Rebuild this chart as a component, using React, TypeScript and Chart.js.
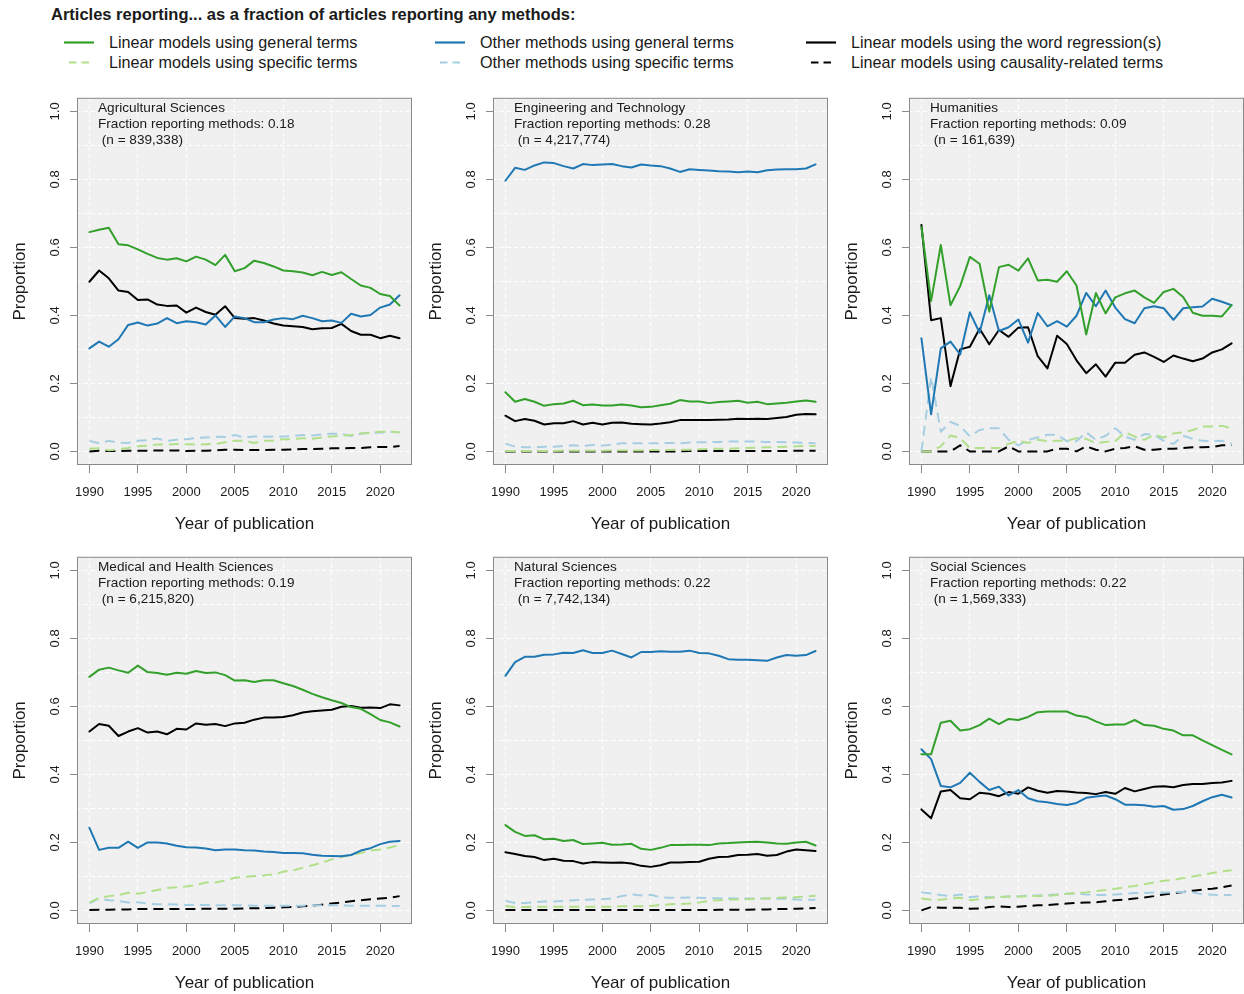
import React, { useEffect, useRef } from 'react';
import { Chart, registerables } from 'chart.js';

Chart.register(...registerables);

const FONT = '"Liberation Sans", Arial, Helvetica, sans-serif';

const years = [1990, 1991, 1992, 1993, 1994, 1995, 1996, 1997, 1998, 1999, 2000, 2001, 2002, 2003, 2004, 2005, 2006, 2007, 2008, 2009, 2010, 2011, 2012, 2013, 2014, 2015, 2016, 2017, 2018, 2019, 2020, 2021, 2022];
const xTickVals = [1990, 1995, 2000, 2005, 2010, 2015, 2020];
const yTickVals = [0, 0.1, 0.2, 0.3, 0.4, 0.5, 0.6, 0.7, 0.8, 0.9, 1.0];

const seriesNames = [
  'Linear models using general terms',
  'Linear models using specific terms',
  'Other methods using general terms',
  'Other methods using specific terms',
  'Linear models using the word regression(s)',
  'Linear models using causality-related terms',
];

// Agricultural Sciences
const agriLinGen = [0.645, 0.652, 0.658, 0.609, 0.606, 0.594, 0.581, 0.569, 0.564, 0.568, 0.559, 0.573, 0.564, 0.548, 0.578, 0.530, 0.539, 0.561, 0.554, 0.544, 0.532, 0.530, 0.526, 0.518, 0.528, 0.519, 0.527, 0.507, 0.488, 0.481, 0.463, 0.457, 0.429];
const agriLinSpec = [0.008, 0.009, 0.003, 0.006, 0.010, 0.015, 0.017, 0.020, 0.020, 0.022, 0.021, 0.020, 0.021, 0.022, 0.027, 0.031, 0.031, 0.025, 0.031, 0.032, 0.036, 0.036, 0.039, 0.037, 0.041, 0.044, 0.046, 0.048, 0.053, 0.054, 0.058, 0.058, 0.056];
const agriOthGen = [0.303, 0.323, 0.308, 0.330, 0.372, 0.379, 0.370, 0.376, 0.392, 0.377, 0.383, 0.380, 0.373, 0.400, 0.366, 0.397, 0.392, 0.380, 0.380, 0.388, 0.392, 0.389, 0.399, 0.392, 0.383, 0.385, 0.378, 0.405, 0.397, 0.401, 0.423, 0.432, 0.459];
const agriOthSpec = [0.031, 0.024, 0.031, 0.026, 0.025, 0.031, 0.033, 0.038, 0.031, 0.034, 0.036, 0.039, 0.041, 0.043, 0.042, 0.048, 0.041, 0.044, 0.043, 0.044, 0.044, 0.045, 0.048, 0.047, 0.050, 0.052, 0.052, 0.045, 0.052, 0.056, 0.055, 0.058, 0.056];
const agriReg = [0.499, 0.532, 0.509, 0.473, 0.469, 0.445, 0.447, 0.432, 0.428, 0.429, 0.408, 0.423, 0.410, 0.402, 0.427, 0.392, 0.390, 0.392, 0.385, 0.376, 0.370, 0.368, 0.366, 0.359, 0.362, 0.363, 0.375, 0.354, 0.343, 0.343, 0.333, 0.340, 0.333];
const agriCaus = [0.000, 0.002, 0.001, 0.001, 0.002, 0.002, 0.002, 0.003, 0.003, 0.003, 0.001, 0.002, 0.002, 0.003, 0.005, 0.005, 0.004, 0.004, 0.004, 0.005, 0.005, 0.006, 0.007, 0.007, 0.008, 0.009, 0.009, 0.010, 0.010, 0.012, 0.013, 0.013, 0.016];

// Engineering and Technology
const engLinGen = [0.174, 0.146, 0.154, 0.146, 0.134, 0.139, 0.141, 0.149, 0.136, 0.138, 0.135, 0.135, 0.138, 0.135, 0.130, 0.131, 0.136, 0.140, 0.151, 0.147, 0.147, 0.142, 0.145, 0.147, 0.149, 0.143, 0.146, 0.139, 0.141, 0.143, 0.147, 0.150, 0.146];
const engLinSpec = [0.001, 0.001, 0.001, 0.001, 0.001, 0.001, 0.002, 0.002, 0.002, 0.002, 0.002, 0.003, 0.003, 0.003, 0.003, 0.004, 0.004, 0.004, 0.005, 0.005, 0.006, 0.007, 0.008, 0.008, 0.009, 0.010, 0.011, 0.012, 0.013, 0.014, 0.015, 0.016, 0.016];
const engOthGen = [0.796, 0.834, 0.828, 0.841, 0.850, 0.848, 0.839, 0.832, 0.845, 0.842, 0.844, 0.845, 0.839, 0.835, 0.844, 0.841, 0.839, 0.832, 0.822, 0.830, 0.828, 0.826, 0.824, 0.823, 0.821, 0.823, 0.821, 0.827, 0.829, 0.830, 0.830, 0.832, 0.844];
const engOthSpec = [0.023, 0.014, 0.012, 0.012, 0.014, 0.014, 0.016, 0.018, 0.016, 0.019, 0.017, 0.020, 0.024, 0.024, 0.024, 0.024, 0.024, 0.025, 0.024, 0.026, 0.027, 0.027, 0.028, 0.029, 0.029, 0.029, 0.029, 0.028, 0.028, 0.027, 0.026, 0.025, 0.024];
const engReg = [0.105, 0.089, 0.095, 0.090, 0.079, 0.083, 0.083, 0.089, 0.079, 0.084, 0.079, 0.084, 0.085, 0.081, 0.080, 0.079, 0.082, 0.086, 0.092, 0.092, 0.092, 0.092, 0.093, 0.094, 0.096, 0.095, 0.096, 0.095, 0.098, 0.101, 0.108, 0.110, 0.109];
const engCaus = [0.000, 0.000, 0.000, 0.000, 0.000, 0.000, 0.000, 0.000, 0.000, 0.000, 0.000, 0.000, 0.000, 0.000, 0.000, 0.000, 0.000, 0.000, 0.000, 0.001, 0.001, 0.001, 0.001, 0.001, 0.001, 0.001, 0.001, 0.001, 0.001, 0.001, 0.002, 0.002, 0.002];

// Humanities
const humLinGen = [0.660, 0.442, 0.607, 0.430, 0.486, 0.572, 0.552, 0.411, 0.542, 0.549, 0.532, 0.568, 0.503, 0.505, 0.499, 0.530, 0.488, 0.344, 0.466, 0.406, 0.453, 0.465, 0.473, 0.453, 0.437, 0.469, 0.478, 0.454, 0.408, 0.399, 0.399, 0.397, 0.430];
const humLinSpec = [0.000, 0.000, 0.015, 0.047, 0.039, 0.010, 0.010, 0.010, 0.010, 0.022, 0.031, 0.025, 0.034, 0.030, 0.031, 0.031, 0.039, 0.037, 0.024, 0.028, 0.030, 0.056, 0.044, 0.034, 0.049, 0.041, 0.053, 0.056, 0.063, 0.073, 0.073, 0.075, 0.068];
const humOthGen = [0.333, 0.109, 0.303, 0.323, 0.285, 0.409, 0.349, 0.459, 0.354, 0.365, 0.388, 0.320, 0.407, 0.368, 0.383, 0.367, 0.399, 0.466, 0.427, 0.473, 0.423, 0.389, 0.377, 0.421, 0.427, 0.421, 0.387, 0.421, 0.424, 0.426, 0.449, 0.440, 0.430];
const humOthSpec = [0.000, 0.220, 0.058, 0.087, 0.075, 0.044, 0.063, 0.068, 0.068, 0.034, 0.018, 0.034, 0.041, 0.049, 0.049, 0.030, 0.030, 0.056, 0.034, 0.046, 0.068, 0.044, 0.034, 0.051, 0.049, 0.031, 0.022, 0.046, 0.037, 0.031, 0.030, 0.031, 0.023];
const humReg = [0.666, 0.386, 0.392, 0.192, 0.300, 0.308, 0.361, 0.315, 0.357, 0.337, 0.364, 0.365, 0.280, 0.244, 0.340, 0.316, 0.268, 0.230, 0.256, 0.220, 0.261, 0.261, 0.284, 0.291, 0.278, 0.263, 0.282, 0.273, 0.265, 0.273, 0.291, 0.300, 0.318];
const humCaus = [0.000, 0.000, 0.000, 0.000, 0.018, 0.000, 0.000, 0.000, 0.000, 0.015, 0.000, 0.000, 0.000, 0.000, 0.008, 0.008, 0.000, 0.015, 0.005, 0.000, 0.008, 0.010, 0.015, 0.005, 0.005, 0.008, 0.008, 0.010, 0.012, 0.012, 0.013, 0.018, 0.018];

// Medical and Health Sciences
const medLinGen = [0.687, 0.708, 0.714, 0.706, 0.699, 0.720, 0.701, 0.698, 0.693, 0.699, 0.696, 0.704, 0.698, 0.700, 0.692, 0.676, 0.677, 0.672, 0.677, 0.677, 0.668, 0.660, 0.649, 0.637, 0.627, 0.618, 0.610, 0.598, 0.593, 0.577, 0.560, 0.553, 0.541];
const medLinSpec = [0.023, 0.037, 0.042, 0.045, 0.052, 0.049, 0.054, 0.060, 0.066, 0.068, 0.070, 0.075, 0.082, 0.082, 0.088, 0.096, 0.099, 0.101, 0.103, 0.106, 0.114, 0.118, 0.125, 0.133, 0.140, 0.150, 0.157, 0.164, 0.169, 0.176, 0.179, 0.185, 0.192];
const medOthGen = [0.243, 0.178, 0.184, 0.184, 0.202, 0.184, 0.200, 0.200, 0.197, 0.190, 0.186, 0.185, 0.182, 0.177, 0.179, 0.179, 0.177, 0.176, 0.173, 0.172, 0.169, 0.169, 0.168, 0.164, 0.161, 0.160, 0.159, 0.163, 0.176, 0.183, 0.195, 0.202, 0.204];
const medOthSpec = [0.021, 0.035, 0.030, 0.028, 0.023, 0.024, 0.020, 0.018, 0.018, 0.017, 0.016, 0.016, 0.016, 0.015, 0.015, 0.015, 0.015, 0.014, 0.014, 0.014, 0.014, 0.014, 0.014, 0.015, 0.015, 0.015, 0.015, 0.014, 0.014, 0.014, 0.014, 0.013, 0.013];
const medReg = [0.526, 0.548, 0.543, 0.513, 0.526, 0.536, 0.523, 0.526, 0.518, 0.534, 0.532, 0.550, 0.546, 0.548, 0.542, 0.550, 0.552, 0.561, 0.567, 0.567, 0.569, 0.574, 0.582, 0.586, 0.588, 0.590, 0.599, 0.601, 0.596, 0.597, 0.595, 0.606, 0.603];
const medCaus = [0.001, 0.002, 0.002, 0.003, 0.003, 0.004, 0.004, 0.004, 0.004, 0.004, 0.004, 0.004, 0.005, 0.005, 0.005, 0.005, 0.006, 0.006, 0.007, 0.008, 0.009, 0.010, 0.012, 0.014, 0.017, 0.020, 0.023, 0.027, 0.030, 0.033, 0.035, 0.037, 0.042];

// Natural Sciences
const natLinGen = [0.251, 0.231, 0.219, 0.221, 0.209, 0.211, 0.204, 0.207, 0.195, 0.197, 0.199, 0.193, 0.194, 0.196, 0.181, 0.178, 0.184, 0.192, 0.192, 0.193, 0.193, 0.192, 0.197, 0.198, 0.200, 0.201, 0.202, 0.200, 0.197, 0.196, 0.200, 0.202, 0.191];
const natLinSpec = [0.013, 0.009, 0.010, 0.011, 0.011, 0.011, 0.011, 0.011, 0.011, 0.011, 0.011, 0.011, 0.012, 0.012, 0.012, 0.013, 0.016, 0.018, 0.019, 0.020, 0.023, 0.028, 0.030, 0.032, 0.032, 0.033, 0.035, 0.035, 0.037, 0.038, 0.039, 0.041, 0.043];
const natOthGen = [0.690, 0.730, 0.746, 0.746, 0.752, 0.753, 0.758, 0.757, 0.765, 0.757, 0.757, 0.764, 0.754, 0.744, 0.760, 0.760, 0.762, 0.761, 0.761, 0.764, 0.757, 0.756, 0.749, 0.739, 0.737, 0.737, 0.736, 0.734, 0.744, 0.751, 0.749, 0.751, 0.763];
const natOthSpec = [0.028, 0.022, 0.022, 0.024, 0.026, 0.026, 0.028, 0.030, 0.031, 0.032, 0.033, 0.035, 0.042, 0.047, 0.044, 0.046, 0.039, 0.037, 0.037, 0.038, 0.037, 0.036, 0.036, 0.036, 0.035, 0.035, 0.035, 0.035, 0.034, 0.034, 0.032, 0.031, 0.031];
const natReg = [0.171, 0.166, 0.160, 0.157, 0.148, 0.152, 0.146, 0.145, 0.138, 0.142, 0.141, 0.140, 0.141, 0.138, 0.131, 0.128, 0.133, 0.141, 0.141, 0.142, 0.143, 0.152, 0.157, 0.158, 0.163, 0.164, 0.166, 0.161, 0.163, 0.173, 0.179, 0.177, 0.175];
const natCaus = [0.001, 0.001, 0.001, 0.001, 0.001, 0.001, 0.001, 0.001, 0.001, 0.001, 0.001, 0.001, 0.001, 0.001, 0.001, 0.001, 0.001, 0.001, 0.001, 0.001, 0.001, 0.001, 0.002, 0.002, 0.002, 0.002, 0.003, 0.003, 0.004, 0.004, 0.005, 0.006, 0.007];

// Social Sciences
const socLinGen = [0.459, 0.459, 0.552, 0.558, 0.529, 0.533, 0.545, 0.564, 0.548, 0.563, 0.560, 0.569, 0.583, 0.585, 0.585, 0.585, 0.573, 0.569, 0.556, 0.545, 0.547, 0.547, 0.560, 0.545, 0.543, 0.534, 0.529, 0.515, 0.515, 0.500, 0.486, 0.472, 0.459];
const socLinSpec = [0.035, 0.031, 0.031, 0.035, 0.037, 0.030, 0.033, 0.037, 0.039, 0.041, 0.041, 0.042, 0.042, 0.043, 0.045, 0.049, 0.051, 0.053, 0.057, 0.060, 0.064, 0.068, 0.072, 0.077, 0.082, 0.087, 0.090, 0.095, 0.100, 0.105, 0.110, 0.115, 0.118];
const socOthGen = [0.474, 0.445, 0.366, 0.362, 0.375, 0.405, 0.378, 0.354, 0.364, 0.338, 0.354, 0.330, 0.321, 0.318, 0.313, 0.310, 0.316, 0.331, 0.335, 0.338, 0.327, 0.311, 0.311, 0.309, 0.305, 0.307, 0.296, 0.298, 0.307, 0.321, 0.333, 0.340, 0.332];
const socOthSpec = [0.053, 0.050, 0.045, 0.042, 0.047, 0.039, 0.042, 0.039, 0.039, 0.041, 0.041, 0.044, 0.044, 0.045, 0.047, 0.049, 0.050, 0.047, 0.045, 0.045, 0.047, 0.049, 0.051, 0.051, 0.053, 0.053, 0.053, 0.054, 0.053, 0.047, 0.046, 0.045, 0.045];
const socReg = [0.297, 0.271, 0.350, 0.354, 0.330, 0.327, 0.346, 0.343, 0.336, 0.348, 0.343, 0.362, 0.352, 0.346, 0.351, 0.350, 0.347, 0.345, 0.342, 0.348, 0.343, 0.360, 0.350, 0.357, 0.364, 0.365, 0.362, 0.369, 0.372, 0.372, 0.375, 0.376, 0.381];
const socCaus = [0.000, 0.010, 0.008, 0.008, 0.008, 0.005, 0.006, 0.010, 0.012, 0.010, 0.011, 0.013, 0.015, 0.016, 0.018, 0.020, 0.022, 0.023, 0.024, 0.027, 0.030, 0.032, 0.035, 0.038, 0.042, 0.047, 0.050, 0.054, 0.058, 0.061, 0.064, 0.068, 0.073];

const panelNames = ['Agricultural Sciences', 'Engineering and Technology', 'Humanities', 'Medical and Health Sciences', 'Natural Sciences', 'Social Sciences'];
const panelFractions = ['0.18', '0.28', '0.09', '0.19', '0.22', '0.22'];
const panelCounts = ['839,338', '4,217,774', '161,639', '6,215,820', '7,742,134', '1,569,333'];

// series order per panel: linGen, linSpec, othGen, othSpec, reg, caus
const panelSeries = [
  [agriLinGen, agriLinSpec, agriOthGen, agriOthSpec, agriReg, agriCaus],
  [engLinGen, engLinSpec, engOthGen, engOthSpec, engReg, engCaus],
  [humLinGen, humLinSpec, humOthGen, humOthSpec, humReg, humCaus],
  [medLinGen, medLinSpec, medOthGen, medOthSpec, medReg, medCaus],
  [natLinGen, natLinSpec, natOthGen, natOthSpec, natReg, natCaus],
  [socLinGen, socLinSpec, socOthGen, socOthSpec, socReg, socCaus],
];

const seriesColors = ['#33A02C', '#B2DF8A', '#1F78B4', '#A6CEE3', '#000000', '#000000'];
const seriesDashed = [false, true, false, true, false, true];
// drawing order (first = top)
const drawOrder = [0, 2, 4, 1, 3, 5];

const Y_AXIS_W = 77;
const X_AXIS_H = 75;
const PAD_TOP = 5;
const PAD_RIGHT = 3;
const PLOT_W = 335;
const PLOT_H = 376;
const CW = Y_AXIS_W + PLOT_W + PAD_RIGHT;
const CH = PAD_TOP + PLOT_H + X_AXIS_H;
const colLefts = [0, 416, 832];
const rowTops = [84, 543];

const TEXT = '#1a1a1a';
const AXIS = '#8a8a8a';

const panelBox = {
  id: 'panelBox',
  beforeDraw(chart: any) {
    const { ctx, chartArea } = chart;
    ctx.save();
    ctx.fillStyle = '#F0F0F0';
    ctx.fillRect(chartArea.left, chartArea.top, chartArea.right - chartArea.left, chartArea.bottom - chartArea.top);
    ctx.restore();
  },
  afterDraw(chart: any) {
    const { ctx, chartArea } = chart;
    ctx.save();
    ctx.strokeStyle = AXIS;
    ctx.lineWidth = 1;
    ctx.setLineDash([]);
    ctx.strokeRect(chartArea.left + 0.5, chartArea.top + 0.5, chartArea.right - chartArea.left - 1, chartArea.bottom - chartArea.top - 1);
    ctx.restore();
  },
};

function Panel({ idx }: { idx: number }) {
  const ref = useRef<HTMLCanvasElement>(null);
  const left = colLefts[idx % 3];
  const top = rowTops[Math.floor(idx / 3)];
  useEffect(() => {
    const series = panelSeries[idx];
    const datasets = drawOrder.map((s) => ({
      label: seriesNames[s],
      data: years.map((yr, i) => ({ x: yr, y: series[s][i] })),
      borderColor: seriesColors[s],
      backgroundColor: seriesColors[s],
      borderWidth: 2,
      borderDash: seriesDashed[s] ? [10, 6] : [],
      borderCapStyle: seriesDashed[s] ? 'butt' : 'round',
      borderJoinStyle: 'round',
      pointRadius: 0,
      tension: 0,
      fill: false,
    }));
    const chart = new Chart(ref.current as HTMLCanvasElement, {
      type: 'line',
      data: { datasets } as any,
      options: {
        responsive: false,
        animation: false,
        events: [],
        layout: { padding: { top: PAD_TOP, right: PAD_RIGHT, left: 0, bottom: 0 } },
        plugins: { legend: { display: false }, tooltip: { enabled: false }, title: { display: false } },
        scales: {
          x: {
            type: 'linear',
            min: 1988.72,
            max: 2023.28,
            afterBuildTicks: (s: any) => { s.ticks = xTickVals.map((v) => ({ value: v })); },
            afterFit: (s: any) => { s.height = X_AXIS_H; },
            ticks: {
              autoSkip: false,
              maxRotation: 0,
              minRotation: 0,
              padding: 12,
              color: TEXT,
              font: { family: FONT, size: 13 },
              callback: (v: any) => String(v),
            },
            grid: { color: '#FFFFFF', lineWidth: 1, tickLength: 8, tickColor: AXIS, tickBorderDash: [] },
            border: { display: false, dash: [4, 3] },
            title: { display: true, text: 'Year of publication', color: TEXT, font: { family: FONT, size: 17 }, padding: { top: 0, bottom: 5 } },
          },
          y: {
            type: 'linear',
            min: -0.04,
            max: 1.04,
            afterBuildTicks: (s: any) => { s.ticks = yTickVals.map((v) => ({ value: v })); },
            afterFit: (s: any) => { s.width = Y_AXIS_W; },
            ticks: {
              autoSkip: false,
              minRotation: 90,
              maxRotation: 90,
              crossAlign: 'center',
              padding: 6,
              color: TEXT,
              font: { family: FONT, size: 13 },
              callback: (v: any, i: number) => (i % 2 === 0 ? Number(v).toFixed(1) : ''),
            },
            grid: {
              color: '#FFFFFF',
              lineWidth: 1,
              tickLength: 7,
              tickColor: (c: any) => (c.index % 2 === 0 ? AXIS : 'rgba(0,0,0,0)'),
              tickBorderDash: [],
            },
            border: { display: false, dash: [4, 3] },
            title: { display: true, text: 'Proportion', color: TEXT, font: { family: FONT, size: 17 }, padding: { top: 10, bottom: 0 } },
          },
        },
      } as any,
      plugins: [panelBox],
    });
    return () => chart.destroy();
  }, [idx]);

  return (
    <>
      <div style={{ position: 'absolute', left, top, width: CW, height: CH }}>
        <canvas ref={ref} width={CW} height={CH} style={{ width: CW, height: CH, display: 'block' }} />
      </div>
      <div
        style={{
          position: 'absolute',
          left: left + Y_AXIS_W + 21,
          top: top + 16,
          fontFamily: FONT,
          fontSize: 13.6,
          lineHeight: '16px',
          color: TEXT,
          whiteSpace: 'pre',
        }}
      >
        <div>{panelNames[idx]}</div>
        <div>{'Fraction reporting methods: ' + panelFractions[idx]}</div>
        <div>{' (n = ' + panelCounts[idx] + ')'}</div>
      </div>
    </>
  );
}

const legendCols = [
  { lineX: 64, textX: 109 },
  { lineX: 435, textX: 480 },
  { lineX: 806, textX: 851 },
];
const legendRows = [43, 63];

function Legend() {
  const items = [0, 1, 2, 3, 4, 5];
  return (
    <>
      <svg style={{ position: 'absolute', left: 0, top: 0 }} width={1244} height={80}>
        {items.map((s) => {
          const col = legendCols[Math.floor(s / 2)];
          const y = legendRows[s % 2] - 0.5;
          return seriesDashed[s] ? (
            <line key={s} x1={col.lineX + 5} x2={col.lineX + 25} y1={y} y2={y} stroke={seriesColors[s]} strokeWidth={2.2} strokeDasharray="7.5 5" />
          ) : (
            <line key={s} x1={col.lineX} x2={col.lineX + 30} y1={y} y2={y} stroke={seriesColors[s]} strokeWidth={2.2} />
          );
        })}
      </svg>
      {items.map((s) => {
        const col = legendCols[Math.floor(s / 2)];
        const y = legendRows[s % 2];
        return (
          <div
            key={'t' + s}
            style={{ position: 'absolute', left: col.textX, top: y - 11, fontFamily: FONT, fontSize: 16.2, lineHeight: '20px', color: TEXT, whiteSpace: 'pre' }}
          >
            {seriesNames[s]}
          </div>
        );
      })}
    </>
  );
}

export default function App() {
  return (
    <div style={{ position: 'absolute', left: 0, top: 0, width: 1244, height: 994, overflow: 'hidden', background: '#FFFFFF' }}>
      <div style={{ position: 'absolute', left: 51, top: 4, fontFamily: FONT, fontSize: 16.5, fontWeight: 'bold', lineHeight: '20px', color: TEXT, whiteSpace: 'pre' }}>
        Articles reporting... as a fraction of articles reporting any methods:
      </div>
      <Legend />
      {[0, 1, 2, 3, 4, 5].map((i) => (
        <Panel key={i} idx={i} />
      ))}
    </div>
  );
}
